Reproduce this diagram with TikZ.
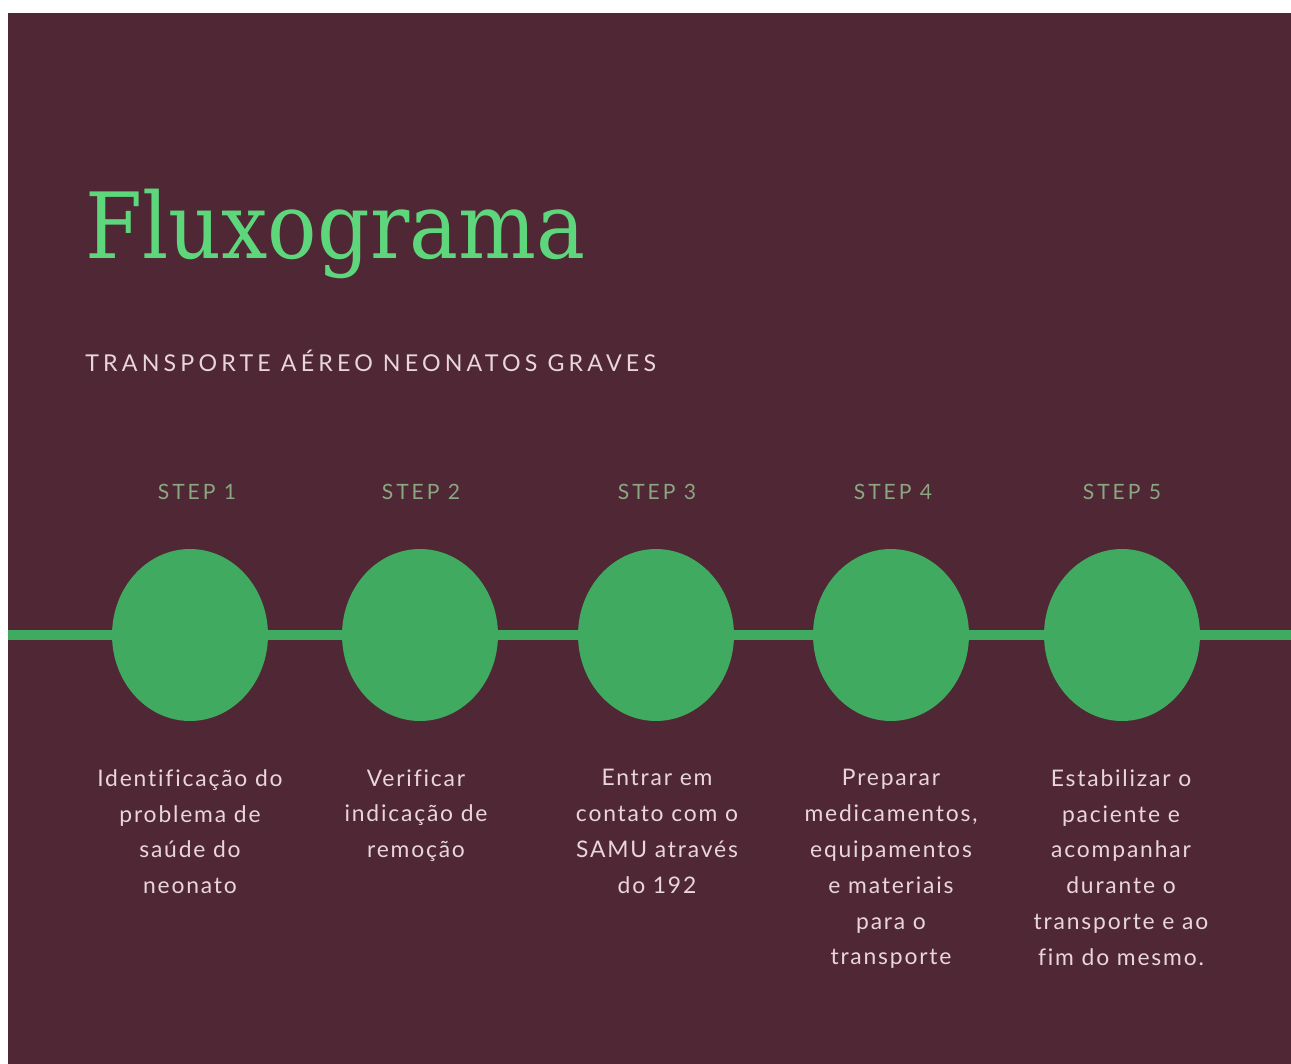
\documentclass[tikz,border=0pt]{standalone}
\usepackage{fontspec}
\setmainfont{Lato}
\newfontfamily\titlefont{DejaVu Serif Condensed}
\newfontfamily\trackfont[LetterSpace=18]{Lato}
\newfontfamily\stepfont[LetterSpace=14]{Lato}
\newfontfamily\bodyfont[LetterSpace=8, Ligatures=NoCommon]{Lato}
\usetikzlibrary{shapes.geometric}
\definecolor{wine}{RGB}{80,39,52}
\definecolor{leaf}{RGB}{64,171,96}
\definecolor{mint}{RGB}{94,214,124}
\definecolor{sage}{RGB}{138,166,130}
\definecolor{blush}{RGB}{232,214,220}
\begin{document}
\begin{tikzpicture}[x=0.02cm, y=-0.02cm,
    dot/.style={ellipse, fill=leaf, inner sep=0pt, minimum width=3.12cm, minimum height=3.44cm},
    steplabel/.style={text=sage, font=\stepfont\fontsize{12}{14}\selectfont},
    desc/.style={anchor=north, align=center, text=blush, inner sep=0pt,
        font=\bodyfont\fontsize{13}{20.4}\selectfont}]
    \useasboundingbox[fill=white] (0,0) rectangle (1291,1064);
    \fill[wine] (8,13) rectangle (1291,1064);

    \node[anchor=base west, inner sep=0pt, text=mint, font=\titlefont\fontsize{52}{60}\selectfont]
        (title) at (85,258) {Fluxograma};
    \node[anchor=base west, inner sep=0pt, text=blush, font=\trackfont\fontsize{13.2}{16}\selectfont]
        (subtitle) at (85,371) {TRANSPORTE AÉREO NEONATOS GRAVES};

    \node[steplabel] (s1) at (197,492) {STEP 1};
    \node[steplabel] (s2) at (421,492) {STEP 2};
    \node[steplabel] (s3) at (657,492) {STEP 3};
    \node[steplabel] (s4) at (893,492) {STEP 4};
    \node[steplabel] (s5) at (1122,492) {STEP 5};

    \node[dot] (c1) at (190,635) {};
    \node[dot] (c2) at (420,635) {};
    \node[dot] (c3) at (656,635) {};
    \node[dot] (c4) at (891,635) {};
    \node[dot] (c5) at (1122,635) {};

    \coordinate (lineL) at (8,635);
    \coordinate (lineR) at (1291,635);
    \draw[leaf, line width=0.2cm] (lineL) -- (c1.west);
    \foreach \a/\b in {c1/c2, c2/c3, c3/c4, c4/c5}
        \draw[leaf, line width=0.2cm] (\a.east) -- (\b.west);
    \draw[leaf, line width=0.2cm] (c5.east) -- (lineR);

    \node[desc] (t1) at (190,769) {Identificação do\\problema de\\saúde do\\neonato};
    \node[desc] (t2) at (416,769) {Verificar\\indicação de\\remoção};
    \node[desc] (t3) at (657,769) {Entrar em\\contato com o\\SAMU através\\do 192};
    \node[desc] (t4) at (891,769) {Preparar\\medicamentos,\\equipamentos\\e materiais\\para o\\transporte};
    \node[desc] (t5) at (1121,769) {Estabilizar o\\paciente e\\acompanhar\\durante o\\transporte e ao\\fim do mesmo.};
\end{tikzpicture}
\end{document}
